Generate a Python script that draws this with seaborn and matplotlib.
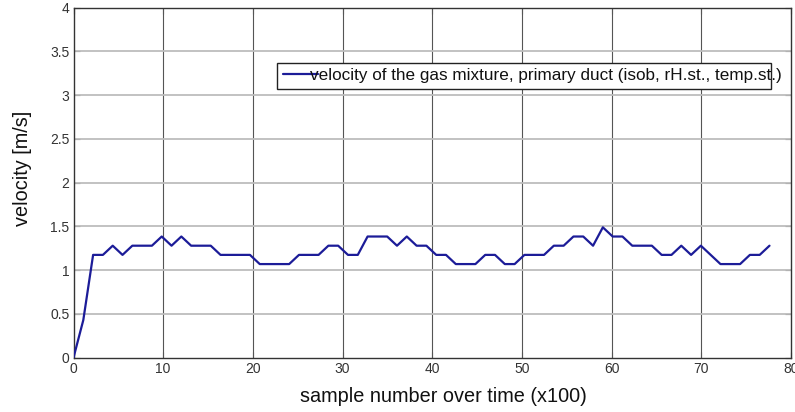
import matplotlib
matplotlib.use("Agg")
import matplotlib.pyplot as plt
from matplotlib.patches import Rectangle
import seaborn as sns
import pandas as pd

sample_x = [0, 1.093, 2.186, 3.279, 4.372, 5.465, 6.558, 7.651, 8.744, 9.837,
            10.93, 12.023, 13.116, 14.209, 15.302, 16.395, 17.488, 18.581, 19.674, 20.767,
            21.86, 22.953, 24.046, 25.139, 26.232, 27.325, 28.418, 29.511, 30.604, 31.697,
            32.79, 33.883, 34.976, 36.069, 37.162, 38.255, 39.348, 40.441, 41.534, 42.627,
            43.72, 44.813, 45.906, 46.999, 48.092, 49.185, 50.278, 51.371, 52.464, 53.557,
            54.65, 55.743, 56.836, 57.929, 59.022, 60.115, 61.208, 62.301, 63.394, 64.487,
            65.58, 66.673, 67.766, 68.859, 69.952, 71.045, 72.138, 73.231, 74.324, 75.417,
            76.51, 77.603]
velocity = [0, 0.43, 1.175, 1.175, 1.28, 1.175, 1.28, 1.28, 1.28, 1.385,
            1.28, 1.385, 1.28, 1.28, 1.28, 1.175, 1.175, 1.175, 1.175, 1.07,
            1.07, 1.07, 1.07, 1.175, 1.175, 1.175, 1.28, 1.28, 1.175, 1.175,
            1.385, 1.385, 1.385, 1.28, 1.385, 1.28, 1.28, 1.175, 1.175, 1.07,
            1.07, 1.07, 1.175, 1.175, 1.07, 1.07, 1.175, 1.175, 1.175, 1.28,
            1.28, 1.385, 1.385, 1.28, 1.49, 1.385, 1.385, 1.28, 1.28, 1.28,
            1.175, 1.175, 1.28, 1.175, 1.28, 1.175, 1.07, 1.07, 1.07, 1.175,
            1.175, 1.28]
series_label = "velocity of the gas mixture, primary duct (isob, rH.st., temp.st.)"
x_ticks = [0, 10, 20, 30, 40, 50, 60, 70, 80]
y_ticks = [0, 0.5, 1, 1.5, 2, 2.5, 3, 3.5, 4]
y_tick_labels = ["0", "0.5", "1", "1.5", "2", "2.5", "3", "3.5", "4"]

sns.set_theme(style="white")
plt.rcParams['font.family'] = ['Liberation Sans', 'DejaVu Sans']

df = pd.DataFrame({"x": sample_x, "v": velocity})

fig = plt.figure(figsize=(7.95, 4.12), dpi=100)
ax = fig.add_axes([73.5 / 795, 1 - 357.7 / 412, (791 - 73.5) / 795, (357.7 - 7.7) / 412])

sns.lineplot(data=df, x="x", y="v", ax=ax, color="#1c1c98", linewidth=1.6,
             label=series_label, zorder=3)

ax.set_xlim(0, 80)
ax.set_ylim(0, 4)
ax.set_xticks(x_ticks)
ax.set_yticks(y_ticks)
ax.set_yticklabels(y_tick_labels)

# grid: vertical darker, horizontal lighter
for xv in x_ticks[1:-1]:
    ax.axvline(xv, color="#555555", linewidth=0.8, zorder=1)
for yv in y_ticks[1:-1]:
    ax.axhline(yv, color="#bdbdbd", linewidth=1.3, zorder=1)

for s in ax.spines.values():
    s.set_visible(True)
    s.set_color("#333333")
    s.set_linewidth(1.0)

ax.tick_params(axis="both", direction="in", length=4, width=0.8, colors="#555555",
               labelcolor="#333333", labelsize=10, pad=3)
ax.tick_params(top=True, right=True, bottom=True, left=True)

ax.set_xlabel("sample number over time (x100)", fontsize=14.3, color="#111111", labelpad=8)
ax.xaxis.label.set_x(0.516)
ax.set_ylabel("velocity [m/s]", fontsize=14.3, color="#111111", labelpad=13)
ax.yaxis.label.set_y(0.542)

# legend frame (narrower than the text, as in the reference)
frame = Rectangle((0.2832, 0.7677), 0.9721 - 0.2832, 0.8429 - 0.7677,
                  transform=ax.transAxes, facecolor="white", edgecolor="#222222",
                  linewidth=1.0, zorder=4)
ax.add_patch(frame)

leg = ax.legend(loc="center left", bbox_to_anchor=(0.292, 0.805), fontsize=12.3,
                frameon=False, handlelength=2.05, handletextpad=-0.47,
                borderpad=0, borderaxespad=0)
leg.set_zorder(5)
for t in leg.get_texts():
    t.set_color("#111111")

fig.savefig("out.png", dpi=100)
